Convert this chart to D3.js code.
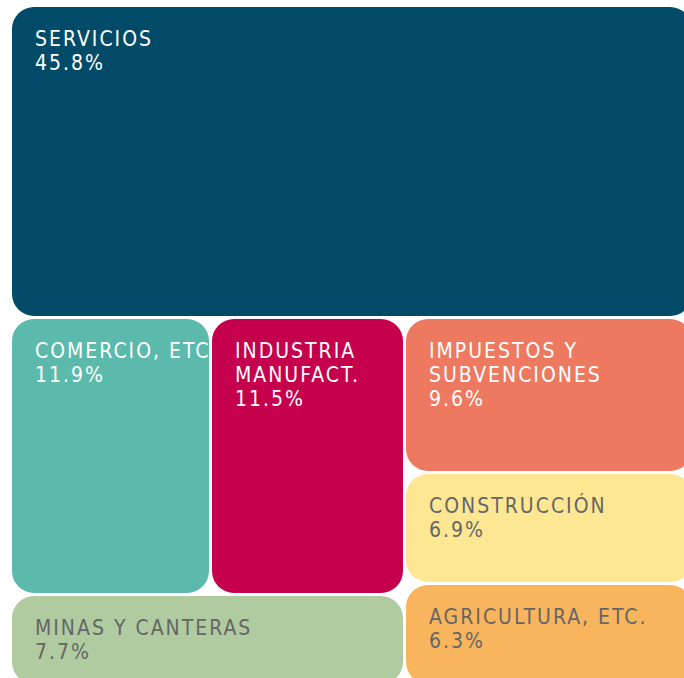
<!DOCTYPE html>
<html>
<head>
<meta charset="utf-8">
<script src="https://cdn.jsdelivr.net/npm/d3@7"></script>
<style>
    body { margin: 0; background: #fff; overflow: hidden; }
    .cell-label { font-family: "DejaVu Sans Condensed", "DejaVu Sans", sans-serif; font-stretch: condensed; font-size: 21px; letter-spacing: 2px; }
</style>
</head>
<body>
<div id="chart"></div>
<script>
// Sector shares (% of GDP)
const sectors = ["SERVICIOS", "COMERCIO, ETC", "INDUSTRIA\nMANUFACT.", "MINAS Y CANTERAS",
    "IMPUESTOS Y\nSUBVENCIONES", "CONSTRUCCIÓN", "AGRICULTURA, ETC."];
const shares = [45.8, 11.9, 11.5, 7.7, 9.6, 6.9, 6.3];
const colors = ["#024b68", "#5bbaab", "#c5004c", "#afcb9f", "#ed7a60", "#fde793", "#f8b55d"];
const textColors = ["#fff", "#fff", "#fff", "#666", "#fff", "#666", "#666"];

function createTreemap() {
    const width = 684;
    const height = 678;
    // the chart runs a little past the right and bottom edges
    const area = { x0: 12, y0: 7, x1: 692, y1: 684 };

    const svg = d3.select("#chart")
        .append("svg")
        .attr("width", width)
        .attr("height", height);

    const leaf = i => ({ name: sectors[i], value: shares[i], color: colors[i], text: textColors[i] });

    // grouping that gives the layout: top band, then left block and right column
    const tree = {
        name: "root",
        children: [
            leaf(0),
            { name: "resto", children: [
                { name: "izquierda", children: [
                    { name: "fila", children: [leaf(1), leaf(2)] },
                    leaf(3)
                ] },
                { name: "derecha", children: [leaf(4), leaf(5), leaf(6)] }
            ] }
        ]
    };

    const root = d3.hierarchy(tree).sum(d => d.value || 0);

    // alternate vertical / horizontal splits by depth
    const tile = (node, x0, y0, x1, y1) =>
        (node.depth % 2 === 0 ? d3.treemapSlice : d3.treemapDice)(node, x0, y0, x1, y1);

    d3.treemap()
        .tile(tile)
        .size([area.x1 - area.x0, area.y1 - area.y0])
        .paddingInner(3)
        .round(true)(root);

    const cells = svg.append("g")
        .attr("transform", `translate(${area.x0}, ${area.y0})`)
        .selectAll("g")
        .data(root.leaves())
        .enter()
        .append("g")
        .attr("transform", d => `translate(${d.x0}, ${d.y0})`);

    cells.append("rect")
        .attr("width", d => d.x1 - d.x0)
        .attr("height", d => d.y1 - d.y0)
        .attr("rx", 22)
        .attr("ry", 22)
        .attr("fill", d => d.data.color);

    const label = cells.append("text")
        .attr("class", "cell-label")
        .attr("fill", d => d.data.text);

    label.each(function (d) {
        const lines = d.data.name.split("\n").concat([d3.format(".1f")(d.data.value) + "%"]);
        d3.select(this).selectAll("tspan")
            .data(lines)
            .enter()
            .append("tspan")
            .attr("x", 23)
            .attr("y", (l, i) => 39 + i * 24)
            .text(l => l);
    });
}

createTreemap();
</script>
</body>
</html>
